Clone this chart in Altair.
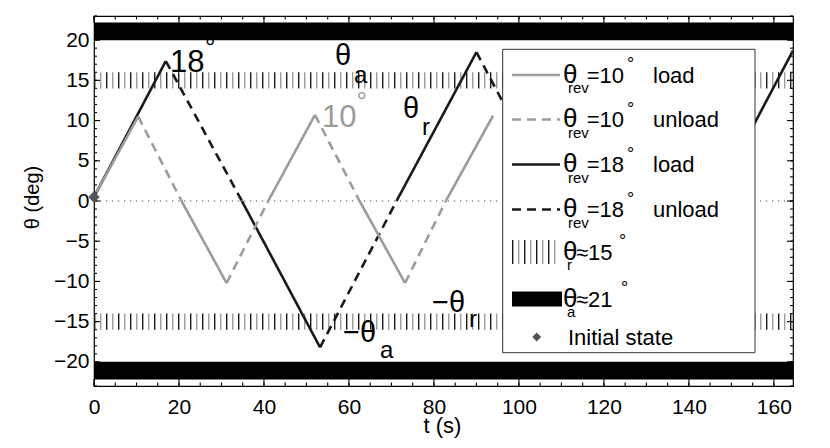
import altair as alt
import pandas as pd

FONT = "Liberation Sans"
GRAY = "#9c9c9c"
BLACK = "#1a1a1a"
TICKC = "black"

# ---------------- data ----------------
GRAY_T = [0, 10.4, 20.6, 31.2, 41.0, 52.0, 62.5, 73.2, 82.8, 93.9]
GRAY_V = [0.5, 10.5, 0.0, -10.2, 0.0, 10.7, 0.0, -10.2, 0.0, 10.6]
BLACK_T = [0, 16.9, 34.8, 53.2, 71.2, 90.0, 108.5, 127.2, 145.8, 164.5]
BLACK_V = [0.5, 17.4, 0.0, -18.2, 0.0, 18.5, 0.0, -18.6, 0.0, 18.7]
INIT_T = [0.0]
INIT_V = [0.5]
THETA_R_BAND = [14.0, 16.0]
THETA_A_BAND = [20.0, 22.2]

X_DOMAIN = [0, 164.5]
Y_DOMAIN = [-23, 23]
X_TICKS = [0, 20, 40, 60, 80, 100, 120, 140, 160]
X_MINOR = list(range(0, 165, 5))
Y_TICKS = [-20, -15, -10, -5, 0, 5, 10, 15, 20]
Y_MINOR = list(range(-23, 24))

W, H = 699, 370
PX_PER_DEG = H / (Y_DOMAIN[1] - Y_DOMAIN[0])
PX_PER_S = W / (X_DOMAIN[1] - X_DOMAIN[0])

XS = alt.Scale(domain=X_DOMAIN, nice=False, zero=False)
YS = alt.Scale(domain=Y_DOMAIN, nice=False, zero=False)


def segments(ts, vs, name):
    rows = []
    for i in range(len(ts) - 1):
        kind = "load" if i % 2 == 0 else "unload"
        for j in (i, i + 1):
            rows.append(dict(t=ts[j], theta=vs[j], seg=f"{name}-{i}", kind=kind, order=j))
    return pd.DataFrame(rows)


X_AXIS = alt.Axis(orient="bottom", values=X_TICKS, ticks=False, domain=False,
                  labels=True, labelFont=FONT, labelFontSize=21, labelColor="black",
                  labelPadding=10.5, labelFlush=False, labelOverlap=False, grid=False,
                  title="t (s)", titleFont=FONT, titleFontSize=22, titleFontWeight="normal",
                  titleColor="black", titleX=348, titleY=46, titleAlign="center",
                  titleBaseline="alphabetic")
Y_AXIS = alt.Axis(orient="left", values=Y_TICKS, ticks=False, domain=False,
                  labels=True, labelFont=FONT, labelFontSize=21, labelColor="black",
                  labelPadding=5, labelFlush=False, labelOverlap=False, grid=False,
                  title="θ (deg)", titleFont=FONT, titleFontSize=20, titleFontWeight="normal",
                  titleColor="black", titleX=-61.5, titleY=181, titleAngle=270, titleAlign="center",
                  titleBaseline="middle")

# ---------------- bands ----------------
band_top = pd.DataFrame({"t0": [X_DOMAIN[0]], "t1": [X_DOMAIN[1]],
                         "lo": [THETA_A_BAND[0]], "hi": [THETA_A_BAND[1]]})
band_bot = pd.DataFrame({"t0": [X_DOMAIN[0]], "t1": [X_DOMAIN[1]],
                         "lo": [-THETA_A_BAND[1]], "hi": [-THETA_A_BAND[0]]})

rect_top = alt.Chart(band_top).mark_rect(color="black").encode(
    x=alt.X("t0:Q", scale=XS, axis=X_AXIS), x2="t1:Q",
    y=alt.Y("lo:Q", scale=YS, axis=Y_AXIS), y2="hi:Q")
rect_bot = alt.Chart(band_bot).mark_rect(color="black").encode(
    x=alt.X("t0:Q", scale=XS, axis=None), x2="t1:Q",
    y=alt.Y("lo:Q", scale=YS, axis=None), y2="hi:Q")

r_mid = (THETA_R_BAND[0] + THETA_R_BAND[1]) / 2
hatch_w = (THETA_R_BAND[1] - THETA_R_BAND[0]) * PX_PER_DEG
hatch_df_top = pd.DataFrame({"t0": [X_DOMAIN[0]], "t1": [X_DOMAIN[1]], "m": [r_mid]})
hatch_df_bot = pd.DataFrame({"t0": [X_DOMAIN[0]], "t1": [X_DOMAIN[1]], "m": [-r_mid]})


def hatch(df, color, offset):
    return alt.Chart(df).mark_rule(color=color, strokeWidth=hatch_w, strokeDash=[1.4, 10.6],
                                   strokeDashOffset=offset, strokeCap="butt").encode(
        x=alt.X("t0:Q", scale=XS, axis=None), x2="t1:Q",
        y=alt.Y("m:Q", scale=YS, axis=None))


hatches = [hatch(hatch_df_top, BLACK, 0), hatch(hatch_df_top, GRAY, 6),
           hatch(hatch_df_bot, BLACK, 0), hatch(hatch_df_bot, GRAY, 6)]

zero_df = pd.DataFrame({"t0": [X_DOMAIN[0]], "t1": [X_DOMAIN[1]], "z": [0.0]})
zero = alt.Chart(zero_df).mark_rule(color="#444", strokeWidth=1, strokeDash=[1.2, 4.8]).encode(
    x=alt.X("t0:Q", scale=XS, axis=None), x2="t1:Q", y=alt.Y("z:Q", scale=YS, axis=None))


# ---------------- inward ticks (tick arrays, through the scales) ----------------
def xticks(values, length_px, top):
    edge = Y_DOMAIN[1] if top else Y_DOMAIN[0]
    inner = edge - length_px / PX_PER_DEG if top else edge + length_px / PX_PER_DEG
    df = pd.DataFrame({"v": values, "a": [edge] * len(values), "b": [inner] * len(values)})
    return alt.Chart(df).mark_rule(color=TICKC, strokeWidth=1.1).encode(
        x=alt.X("v:Q", scale=XS, axis=None),
        y=alt.Y("a:Q", scale=YS, axis=None), y2="b:Q")


def yticks(values, length_px, right):
    edge = X_DOMAIN[1] if right else X_DOMAIN[0]
    inner = edge - length_px / PX_PER_S if right else edge + length_px / PX_PER_S
    df = pd.DataFrame({"v": values, "a": [edge] * len(values), "b": [inner] * len(values)})
    return alt.Chart(df).mark_rule(color=TICKC, strokeWidth=1.1).encode(
        y=alt.Y("v:Q", scale=YS, axis=None),
        x=alt.X("a:Q", scale=XS, axis=None), x2="b:Q")


ticks = [xticks(X_TICKS, 7, False), xticks(X_TICKS, 7, True),
         xticks(X_MINOR, 3.5, False), xticks(X_MINOR, 3.5, True),
         yticks(Y_TICKS, 6, False), yticks(Y_TICKS, 6, True),
         yticks(Y_MINOR, 3, False), yticks(Y_MINOR, 3, True)]

DASH = alt.Scale(domain=["load", "unload"], range=[[1, 0], [9, 6]])


def line_layer(df, color):
    return alt.Chart(df).mark_line(color=color, strokeWidth=2.6, strokeCap="butt").encode(
        x=alt.X("t:Q", scale=XS, axis=None),
        y=alt.Y("theta:Q", scale=YS, axis=None),
        detail="seg:N", order="order:Q",
        strokeDash=alt.StrokeDash("kind:N", scale=DASH, legend=None))


black_lines = line_layer(segments(BLACK_T, BLACK_V, "b"), BLACK)
gray_lines = line_layer(segments(GRAY_T, GRAY_V, "g"), GRAY)

init = alt.Chart(pd.DataFrame({"t": INIT_T, "theta": INIT_V})).mark_point(
    shape="diamond", filled=True, size=130, color="#555", opacity=1).encode(
    x=alt.X("t:Q", scale=XS, axis=None), y=alt.Y("theta:Q", scale=YS, axis=None))

ONE = pd.DataFrame({"k": [0]})


def txt(s, x, y, size, color="black", align="left"):
    return alt.Chart(ONE).mark_text(text=s, font=FONT, fontSize=size, color=color, align=align,
                                    baseline="alphabetic").encode(x=alt.value(x), y=alt.value(y))


annot = [
    txt("18", 76, 56, 31),
    txt("°", 111, 40, 26),
    txt("θ", 241, 49, 29),
    txt("a", 260, 67, 24),
    txt("10", 228, 111, 31, GRAY),
    txt("°", 262.4, 93.7, 26, GRAY),
    txt("θ", 309, 102, 29),
    txt("r", 328, 119, 24),
    txt("−θ", 249, 326, 29),
    txt("a", 286, 342, 24),
    txt("−θ", 338, 296, 29),
    txt("r", 375, 311, 24),
]

# ---------------- legend ----------------
LX0, LX1, LY0, LY1 = 408.7, 661, 33.3, 336.7
ROWS = [59, 103.5, 148.5, 193.5, 236, 283, 321]
SX0, SX1 = 418, 466

leg = [alt.Chart(ONE).mark_rect(fill="white", stroke="#333", strokeWidth=1).encode(
    x=alt.value(LX0), x2=alt.value(LX1), y=alt.value(LY0), y2=alt.value(LY1))]


def leg_line(y, color, dash):
    return alt.Chart(ONE).mark_rule(color=color, strokeWidth=2.6, strokeDash=dash, strokeCap="butt").encode(
        x=alt.value(SX0), x2=alt.value(SX1), y=alt.value(y))


entries = [("10", "load", GRAY, [1, 0]), ("10", "unload", GRAY, [9, 6]),
           ("18", "load", BLACK, [1, 0]), ("18", "unload", BLACK, [9, 6])]
for (val, word, col, dash), ry in zip(entries, ROWS[:4]):
    leg.append(leg_line(ry, col, dash))
    leg.append(txt("θ", 469, ry + 7.7, 26))
    leg.append(txt("rev", 474, ry + 18, 15))
    leg.append(txt("=" + val, 492.7, ry + 7.7, 22))
    leg.append(txt("°", 533, ry - 5, 18))
    leg.append(txt(word, 559, ry + 7.7, 22))

# hatch symbol
for col, off in ((BLACK, 0), (GRAY, 6)):
    leg.append(alt.Chart(ONE).mark_rule(color=col, strokeWidth=24, strokeDash=[1.4, 10.6],
                                        strokeDashOffset=off, strokeCap="butt").encode(
        x=alt.value(SX0), x2=alt.value(SX1), y=alt.value(ROWS[4])))
leg.append(txt("θ", 469, ROWS[4] + 7.7, 26))
leg.append(txt("r", 473, ROWS[4] + 18, 15))
leg.append(txt("≈15", 482, ROWS[4] + 7.7, 22))
leg.append(txt("°", 525, ROWS[4] - 5, 18))

leg.append(alt.Chart(ONE).mark_rect(color="black").encode(
    x=alt.value(SX0), x2=alt.value(468), y=alt.value(ROWS[5] - 7.5), y2=alt.value(ROWS[5] + 7.5)))
leg.append(txt("θ", 469, ROWS[5] + 7.7, 26))
leg.append(txt("a", 473, ROWS[5] + 18, 15))
leg.append(txt("≈21", 482, ROWS[5] + 7.7, 22))
leg.append(txt("°", 527, ROWS[5] - 5, 18))

leg.append(alt.Chart(ONE).mark_point(shape="diamond", filled=True, size=80, color="#555", opacity=1).encode(
    x=alt.value(442.7), y=alt.value(ROWS[6])))
leg.append(txt("Initial state", 474, ROWS[6] + 7.7, 22))

chart = alt.layer(
    rect_top, rect_bot, *hatches, zero, black_lines, gray_lines, *ticks, init, *annot, *leg
).resolve_axis(x="independent", y="independent").properties(
    width=W, height=H,
    autosize=alt.AutoSizeParams(type="none"),
    padding={"left": 86, "top": 8, "right": 25, "bottom": 54},
    background="white",
).configure_view(stroke="black", strokeWidth=1.2)

chart.save("out.html", embed_options={"renderer": "svg", "actions": False})
